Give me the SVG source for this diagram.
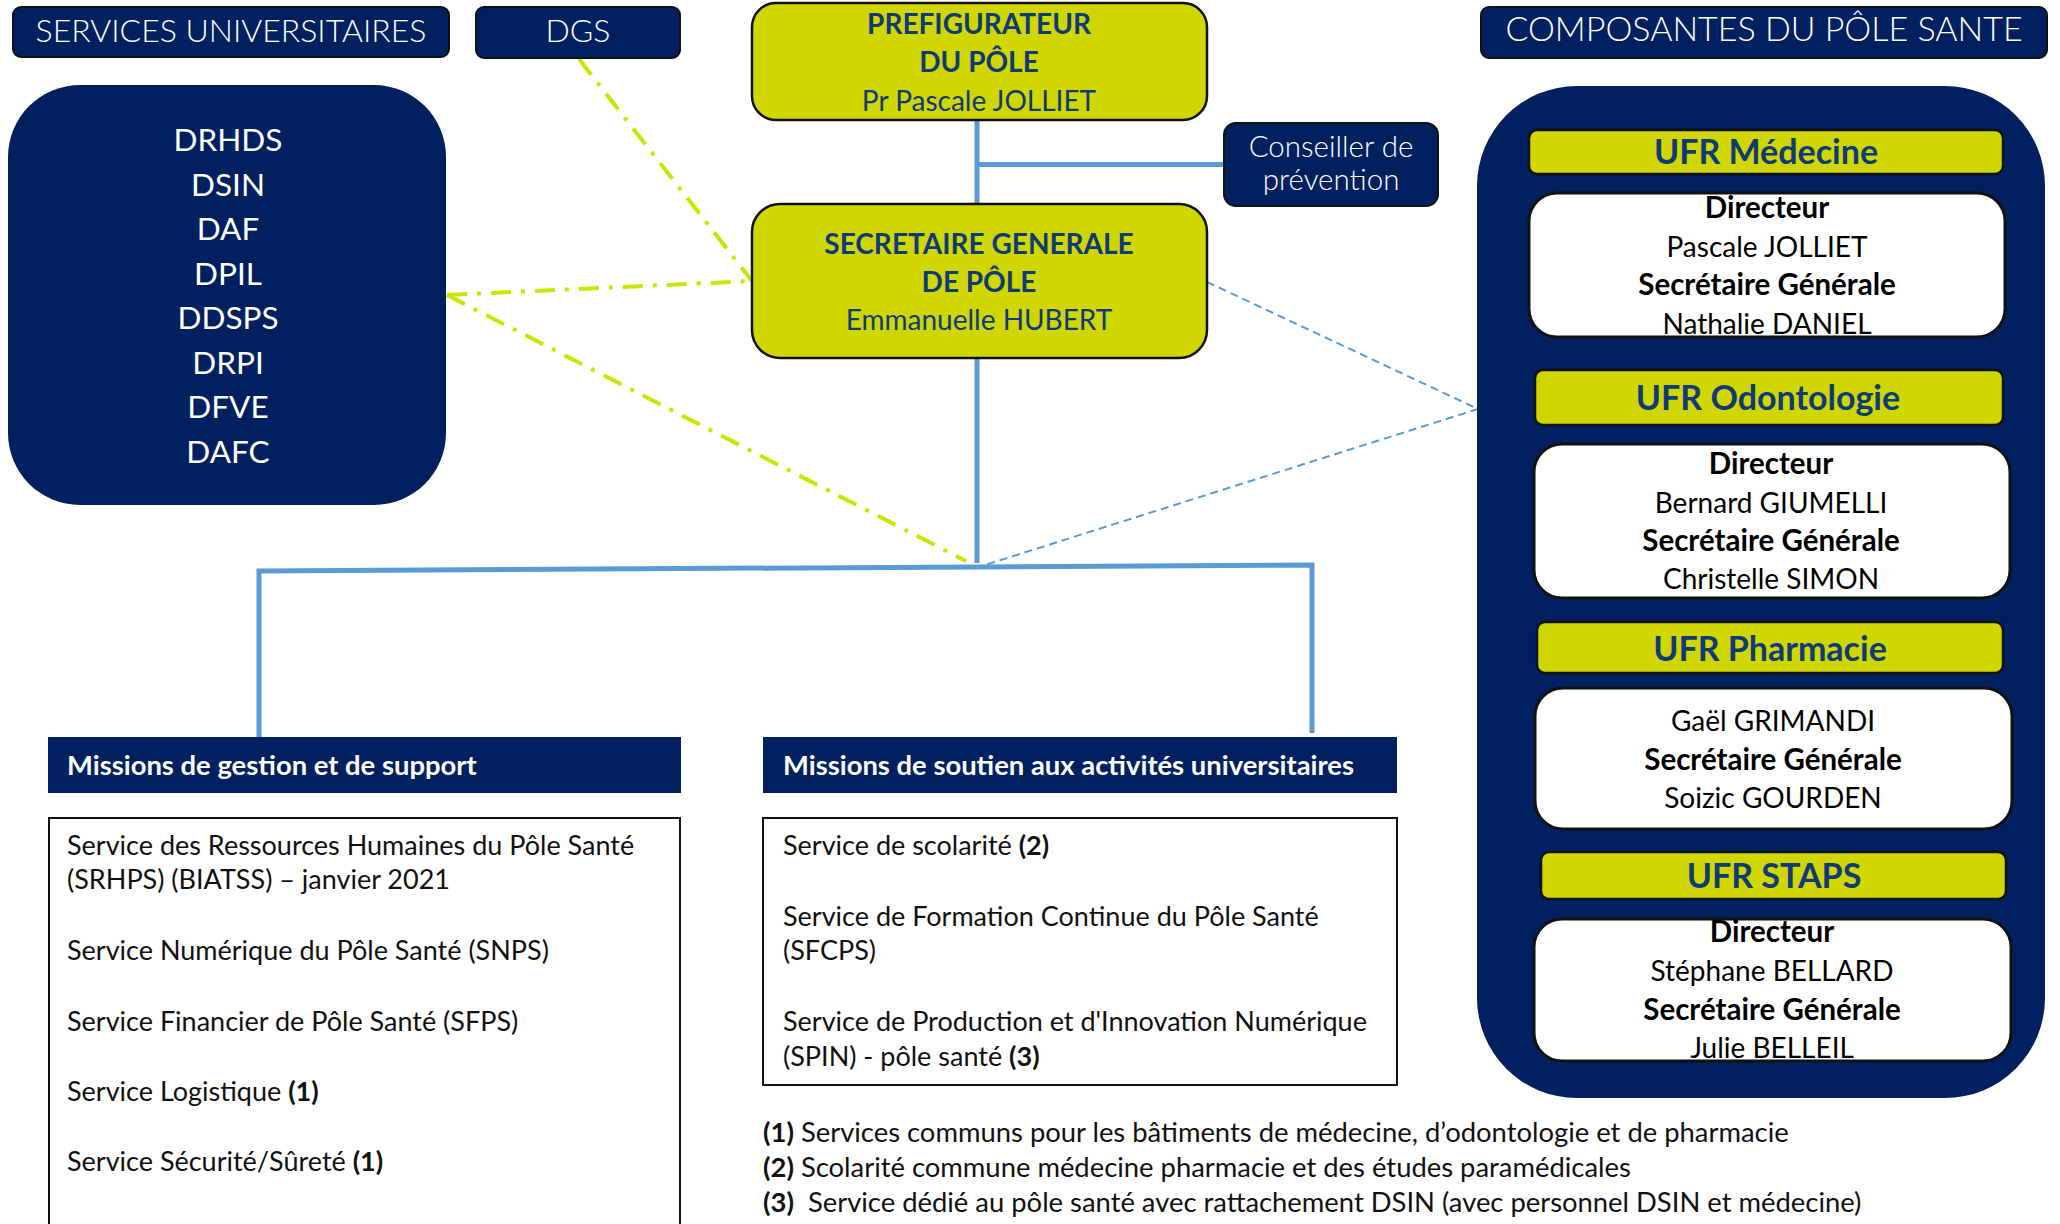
<svg xmlns="http://www.w3.org/2000/svg" width="2060" height="1224" viewBox="0 0 2060 1224">
<style>
text{font-family:Lato,"Open Sans","Liberation Sans",sans-serif}
.navy{fill:#002060;stroke:#111;stroke-width:2}
.navyn{fill:#002060}
.yel{fill:#D0D600;stroke:#111;stroke-width:2.5}
.wbox{fill:#fff;stroke:#111;stroke-width:3}
.hdr{fill:#fff;font-size:32px;font-weight:300;text-anchor:middle}
.lst{fill:#fff;font-size:31.5px;font-weight:400;text-anchor:middle}
.pt{fill:#0E3A76;font-size:28px;text-anchor:middle}
.b{font-weight:700}
.ufr{fill:#0E3A76;font-size:34px;font-weight:700;text-anchor:middle}
.ut{fill:#000;font-size:28px;text-anchor:middle}
.ub{font-size:29.5px;font-weight:700}
.mh{fill:#fff;font-size:27.4px;font-weight:700}
.sv{fill:#111;font-size:27px}
.fn{fill:#111;font-size:27.4px}
.solid{stroke:#5B9BD5;stroke-width:5;fill:none}
.green{stroke:#C8E600;stroke-width:4;fill:none;stroke-dasharray:20 10 4 10}
.bdash{stroke:#5B9BD5;stroke-width:2;fill:none;stroke-dasharray:8 5}
</style>

<g id="connectors">
<path class="solid" d="M977 120 V204 M977 164.5 H1224"/>
<path class="solid" d="M977 358 V563"/>
<path class="solid" d="M259 737 V571 L1312 565 V733"/>
<path class="green" d="M579 59 L752 281"/>
<path class="green" d="M447 295 L752 281"/>
<path class="green" d="M447 295 L966 561"/>
<path class="bdash" d="M1207 282 L1478 409 L985 565"/>
</g>

<g id="services-header">
<rect class="navy" x="13" y="7" width="436" height="50" rx="8"/>
<text class="hdr" x="231" y="42">SERVICES UNIVERSITAIRES</text>
</g>

<g id="dgs">
<rect class="navy" x="476" y="7" width="204" height="51" rx="8"/>
<text class="hdr" x="578" y="42">DGS</text>
</g>

<g id="services-list">
<rect class="navyn" x="8" y="85" width="438" height="420" rx="72"/>
<text class="lst" x="228" y="151">DRHDS</text>
<text class="lst" x="228" y="195.5">DSIN</text>
<text class="lst" x="228" y="240">DAF</text>
<text class="lst" x="228" y="284.5">DPIL</text>
<text class="lst" x="228" y="329">DDSPS</text>
<text class="lst" x="228" y="373.5">DRPI</text>
<text class="lst" x="228" y="418">DFVE</text>
<text class="lst" x="228" y="462.5">DAFC</text>
</g>

<g id="prefigurateur">
<rect class="yel" x="752" y="3" width="455" height="117" rx="24"/>
<text class="pt b" x="979" y="34">PREFIGURATEUR</text>
<text class="pt b" x="979" y="72">DU PÔLE</text>
<text class="pt" x="979" y="111">Pr Pascale JOLLIET</text>
</g>

<g id="conseiller">
<rect class="navy" x="1224" y="123" width="214" height="83" rx="12"/>
<text class="hdr" x="1331" y="157" style="font-size:29.5px">Conseiller de</text>
<text class="hdr" x="1331" y="190" style="font-size:29.5px">prévention</text>
</g>

<g id="secretaire-generale">
<rect class="yel" x="752" y="204" width="455" height="154" rx="28"/>
<text class="pt b" x="979" y="254">SECRETAIRE GENERALE</text>
<text class="pt b" x="979" y="292">DE PÔLE</text>
<text class="pt" x="979" y="330">Emmanuelle HUBERT</text>
</g>

<g id="composantes-header">
<rect class="navy" x="1481" y="7" width="566" height="51" rx="8"/>
<text class="hdr" x="1764" y="41" style="font-size:34px">COMPOSANTES DU PÔLE SANTE</text>
</g>

<g id="composantes">
<rect class="navyn" x="1477" y="86" width="568" height="1012" rx="100"/>
</g>

<g id="ufr-medecine">
<rect class="yel" x="1529" y="130" width="474" height="44" rx="8"/>
<text class="ufr" x="1766" y="164">UFR Médecine</text>
<rect class="wbox" x="1529" y="193" width="476" height="144" rx="28"/>
<text class="ut ub" x="1767" y="218">Directeur</text>
<text class="ut" x="1767" y="257">Pascale JOLLIET</text>
<text class="ut ub" x="1767" y="295">Secrétaire Générale</text>
<text class="ut" x="1767" y="334">Nathalie DANIEL</text>
</g>

<g id="ufr-odontologie">
<rect class="yel" x="1535" y="370" width="468" height="55" rx="8"/>
<text class="ufr" x="1768" y="410">UFR Odontologie</text>
<rect class="wbox" x="1534" y="444" width="476" height="154" rx="28"/>
<text class="ut ub" x="1771" y="474">Directeur</text>
<text class="ut" x="1771" y="513">Bernard GIUMELLI</text>
<text class="ut ub" x="1771" y="551">Secrétaire Générale</text>
<text class="ut" x="1771" y="589">Christelle SIMON</text>
</g>

<g id="ufr-pharmacie">
<rect class="yel" x="1537" y="622" width="466" height="51" rx="8"/>
<text class="ufr" x="1770" y="661">UFR Pharmacie</text>
<rect class="wbox" x="1535" y="688" width="477" height="141" rx="28"/>
<text class="ut" x="1773" y="731">Gaël GRIMANDI</text>
<text class="ut ub" x="1773" y="770">Secrétaire Générale</text>
<text class="ut" x="1773" y="808">Soizic GOURDEN</text>
</g>

<g id="ufr-staps">
<rect class="yel" x="1541" y="852" width="465" height="47" rx="8"/>
<text class="ufr" x="1774" y="888">UFR STAPS</text>
<rect class="wbox" x="1534" y="919" width="477" height="142" rx="28"/>
<text class="ut ub" x="1772" y="942">Directeur</text>
<text class="ut" x="1772" y="981">Stéphane BELLARD</text>
<text class="ut ub" x="1772" y="1020">Secrétaire Générale</text>
<text class="ut" x="1772" y="1058">Julie BELLEIL</text>
</g>

<g id="missions-gestion">
<rect class="navyn" x="48" y="737" width="633" height="56"/>
<text class="mh" x="67" y="775">Missions de gestion et de support</text>
<rect x="49" y="818" width="631" height="430" fill="#fff" stroke="#111" stroke-width="2"/>
<text class="sv" x="67" y="855">Service des Ressources Humaines du Pôle Santé</text>
<text class="sv" x="67" y="889">(SRHPS) (BIATSS) – janvier 2021</text>
<text class="sv" x="67" y="960">Service Numérique du Pôle Santé (SNPS)</text>
<text class="sv" x="67" y="1031">Service Financier de Pôle Santé (SFPS)</text>
<text class="sv" x="67" y="1101">Service Logistique <tspan class="b">(1)</tspan></text>
<text class="sv" x="67" y="1171">Service Sécurité/Sûreté <tspan class="b">(1)</tspan></text>
</g>

<g id="missions-soutien">
<rect class="navyn" x="763" y="737" width="634" height="56"/>
<text class="mh" x="783" y="775">Missions de soutien aux activités universitaires</text>
<rect x="763" y="818" width="634" height="267" fill="#fff" stroke="#111" stroke-width="2"/>
<text class="sv" x="783" y="855">Service de scolarité <tspan class="b">(2)</tspan></text>
<text class="sv" x="783" y="926">Service de Formation Continue du Pôle Santé</text>
<text class="sv" x="783" y="960">(SFCPS)</text>
<text class="sv" x="783" y="1031">Service de Production et d'Innovation Numérique</text>
<text class="sv" x="783" y="1066">(SPIN) - pôle santé <tspan class="b">(3)</tspan></text>
</g>

<g id="notes">
<text class="fn" x="763" y="1142"><tspan class="b">(1)</tspan> Services communs pour les bâtiments de médecine, d’odontologie et de pharmacie</text>
<text class="fn" x="763" y="1177"><tspan class="b">(2)</tspan> Scolarité commune médecine pharmacie et des études paramédicales</text>
<text class="fn" x="763" y="1212"><tspan class="b">(3)</tspan><tspan dx="14">Service dédié au pôle santé avec rattachement DSIN (avec personnel DSIN et médecine)</tspan></text>
</g>
</svg>
